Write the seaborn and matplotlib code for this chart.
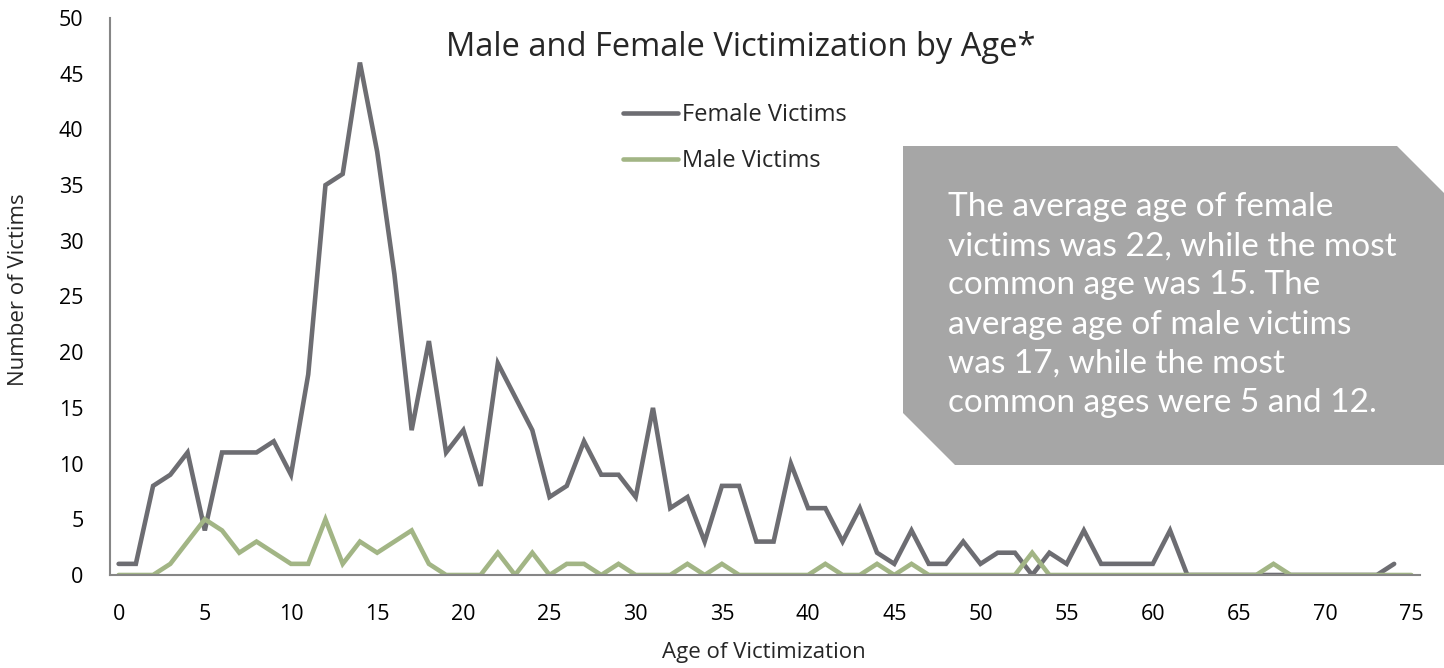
import numpy as np
import pandas as pd
import matplotlib.pyplot as plt
import seaborn as sns
from matplotlib.patches import Polygon
from matplotlib.lines import Line2D

# ages 0-75, female series stops at 74
ages = list(range(0, 76))
female = [1, 1, 8, 9, 11, 4, 11, 11, 11, 12,
          9, 18, 35, 36, 46, 38, 27, 13, 21, 11,
          13, 8, 19, 16, 13, 7, 8, 12, 9, 9,
          7, 15, 6, 7, 3, 8, 8, 3, 3, 10,
          6, 6, 3, 6, 2, 1, 4, 1, 1, 3,
          1, 2, 2, 0, 2, 1, 4, 1, 1, 1,
          1, 4, 0, 0, 0, 0, 0, 0, 0, 0,
          0, 0, 0, 0, 1, np.nan]
male = [0, 0, 0, 1, 3, 5, 4, 2, 3, 2,
        1, 1, 5, 1, 3, 2, 3, 4, 1, 0,
        0, 0, 2, 0, 2, 0, 1, 1, 0, 1,
        0, 0, 0, 1, 0, 1, 0, 0, 0, 0,
        0, 1, 0, 0, 1, 0, 1, 0, 0, 0,
        0, 0, 0, 2, 0, 0, 0, 0, 0, 0,
        0, 0, 0, 0, 0, 0, 0, 1, 0, 0,
        0, 0, 0, 0, 0, 0]
xticks = list(range(0, 80, 5))
yticks = list(range(0, 55, 5))

female_col = '#6d6d72'
male_col = '#a2b585'

sns.set_style('white')
plt.rcParams['font.family'] = ['Open Sans', 'DejaVu Sans']

fig = plt.figure(figsize=(14.44, 6.68), dpi=100)
ax = fig.add_axes([110/1444, 1-575/668, 1310/1444, 557/668])

df = pd.DataFrame({'age': ages, 'Female Victims': female, 'Male Victims': male})
sns.lineplot(data=df, x='age', y='Female Victims', color=female_col, linewidth=3.3,
             ax=ax, solid_capstyle='round', solid_joinstyle='miter')
sns.lineplot(data=df, x='age', y='Male Victims', color=male_col, linewidth=3.3,
             ax=ax, solid_capstyle='round', solid_joinstyle='miter')

ax.set_xlim(-0.5, 75.5)
ax.set_ylim(0, 50)
ax.set_xticks(xticks)
ax.set_yticks(yticks)
ax.tick_params(length=0, labelsize=15.5, colors='black')
ax.tick_params(axis='x', pad=21)
ax.tick_params(axis='y', pad=19)
for s in ['top', 'right']:
    ax.spines[s].set_visible(False)
for s in ['left', 'bottom']:
    ax.spines[s].set_color('#868686')
    ax.spines[s].set_linewidth(1.5)

ax.set_xlabel('Age of Victimization', fontsize=16)
ax.set_ylabel('Number of Victims', fontsize=16)
ax.xaxis.set_label_coords((764-110)/1310, -(642-575)/557)
ax.yaxis.set_label_coords(-(110-29)/1310, (575-290)/557)

fig.text(741/1444, 1-47/668, 'Male and Female Victimization by Age*',
         ha='center', va='center', fontsize=23.5)

handles = [Line2D([], [], color=female_col, lw=3.3, solid_capstyle='round'),
           Line2D([], [], color=male_col, lw=3.3, solid_capstyle='round')]
leg = fig.legend(handles, ['Female Victims', 'Male Victims'],
                 loc='upper left', bbox_to_anchor=(623/1444, 1-103/668),
                 frameon=False, fontsize=17, handlelength=2.35,
                 handletextpad=0.15, labelspacing=0.95,
                 borderpad=0, borderaxespad=0)

# grey annotation box with cut corners
pts = [(903, 146), (1397, 146), (1444, 193), (1444, 465), (955, 465), (903, 413)]
poly = Polygon([(x/1444, 1-y/668) for x, y in pts], closed=True,
               transform=fig.transFigure, facecolor='#a6a6a6', edgecolor='none')
fig.patches.append(poly)
fig.text(948/1444, 1-305/668,
         'The average age of female\nvictims was 22, while the most\n'
         'common age was 15. The\naverage age of male victims\n'
         'was 17, while the most\ncommon ages were 5 and 12.',
         ha='left', va='center', color='white', fontsize=24,
         family=['Lato', 'DejaVu Sans'], linespacing=1.38)

fig.savefig('out.png', dpi=100)
